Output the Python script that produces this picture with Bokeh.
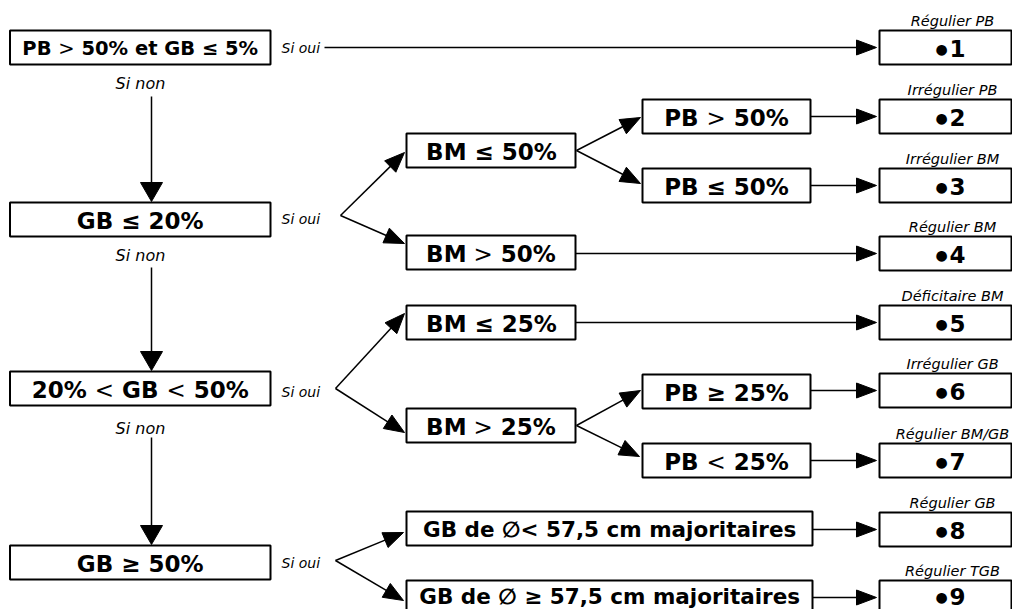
from bokeh.plotting import figure
from bokeh.models import Range1d, ColumnDataSource
from bokeh.core.properties import value
from bokeh.embed import file_html
from bokeh.resources import INLINE

# ---------------- data (texts of the decision key) ----------------
main_tests = ["PB > 50% et GB ≤ 5%", "GB ≤ 20%", "20% < GB < 50%", "GB ≥ 50%"]
yes_label = "Si oui"
no_label = "Si non"
bm_tests_low = ["BM ≤ 50%", "BM > 50%"]
pb_tests_low = ["PB > 50%", "PB ≤ 50%"]
bm_tests_mid = ["BM ≤ 25%", "BM > 25%"]
pb_tests_mid = ["PB ≥ 25%", "PB < 25%"]
gb_tests_high = ["GB de ∅< 57,5 cm majoritaires", "GB de ∅ ≥ 57,5 cm majoritaires"]
outcome_ids = ["1", "2", "3", "4", "5", "6", "7", "8", "9"]
outcome_names = ["Régulier PB", "Irrégulier PB", "Irrégulier BM", "Régulier BM",
                 "Déficitaire BM", "Irrégulier GB", "Régulier BM/GB", "Régulier GB",
                 "Régulier TGB"]
bullet = "●"

# ---------------- layout (pixel coordinates) ----------------
FONT = "DejaVu Sans"
BOX_H = 34
MAIN_SIZE = 23
col1 = dict(left=9.5, right=270, tops=[30, 202, 371, 545])
no_y = [83, 255, 428]
col1_yes_y = [47, 218, 391, 562]
right_col = dict(left=879, right=1011, tops=[30, 99, 168, 236, 305, 373, 443, 512, 580])
mid_boxes = [  # (text, left, right, top, font size)
    (bm_tests_low[0], 406, 575, 133, MAIN_SIZE),
    (bm_tests_low[1], 406, 575, 235, MAIN_SIZE),
    (pb_tests_low[0], 642, 810, 99, MAIN_SIZE),
    (pb_tests_low[1], 642, 810, 168, MAIN_SIZE),
    (bm_tests_mid[0], 406, 575, 305, MAIN_SIZE),
    (bm_tests_mid[1], 406, 575, 408, MAIN_SIZE),
    (pb_tests_mid[0], 642, 810, 374, MAIN_SIZE),
    (pb_tests_mid[1], 642, 810, 443, MAIN_SIZE),
    (gb_tests_high[0], 406, 812, 511, 21.5),
    (gb_tests_high[1], 406, 812, 580, 21.5),
]

BOLD_W = {' ': .348, '%': 1.002, ',': .380, '<': .838, '>': .838, '≤': .838, '≥': .838,
          '∅': .838, 'B': .762, 'G': .821, 'M': .953, 'P': .733, 'T': .682, 'a': .675,
          'c': .593, 'd': .716, 'e': .678, 'i': .343, 'j': .343, 'm': 1.042, 'o': .687,
          'r': .493, 's': .595, 't': .478, '/': .365}
for _d in "0123456789":
    BOLD_W[_d] = .696
REG_W = {'<': .838, '>': .838}


def runs_for(text):
    """split a criterion into bold runs and regular-weight comparison signs"""
    out = []
    cur = []
    for tok in text.split(" "):
        if tok in ("<", ">"):
            if cur:
                out.append((" ".join(cur), "bold"))
                cur = []
            out.append((tok, "normal"))
        else:
            cur.append(tok)
    if cur:
        out.append((" ".join(cur), "bold"))
    return out


def width(s, style, size):
    tab = BOLD_W if style == "bold" else REG_W
    return sum(tab.get(ch, BOLD_W.get(ch, .7)) for ch in s) * size


bold_src = dict(x=[], y=[], text=[], size=[])
norm_src = dict(x=[], y=[], text=[], size=[])


def place_text(text, cx, cy, size):
    runs = runs_for(text)
    sp = BOLD_W[' '] * size
    total = sum(width(r, st, size) for r, st in runs) + sp * (len(runs) - 1)
    x = cx - total / 2
    for r, st in runs:
        d = bold_src if st == "bold" else norm_src
        d["x"].append(x)
        d["y"].append(cy)
        d["text"].append(r)
        d["size"].append(f"{size}px")
        x += width(r, st, size) + sp


p = figure(width=1012, height=609, x_range=Range1d(0, 1012), y_range=Range1d(609, 0),
           output_backend="svg", toolbar_location=None, x_axis_location=None,
           y_axis_location=None, min_border=0, outline_line_color=None)
p.grid.visible = False
p.background_fill_color = "white"
p.border_fill_color = "white"

# ---------------- arrows ----------------
seg_xs, seg_ys, tri_xs, tri_ys = [], [], [], []


def arrow(x0, y0, x1, y1, L=20, W=7.5):
    dx, dy = x1 - x0, y1 - y0
    n = (dx * dx + dy * dy) ** 0.5
    ux, uy = dx / n, dy / n
    bx, by = x1 - ux * L, y1 - uy * L
    px, py = -uy, ux
    seg_xs.append([x0, bx + ux * 2])
    seg_ys.append([y0, by + uy * 2])
    tri_xs.append([x1, bx + px * W, bx - px * W])
    tri_ys.append([y1, by + py * W, by - py * W])


TIP_X = 876
# first test, direct yes
arrow(324, col1_yes_y[0], TIP_X, col1_yes_y[0])
# vertical "Si non" arrows
for y0, top in zip([96, 267, 437], col1["tops"][1:]):
    arrow(151, y0, 151, top - 1, L=19, W=11)
# forks
arrow(340, 215, 404, 152, W=8)
arrow(340, 215, 404, 243, W=8)
arrow(576, 150, 640, 117, W=8)
arrow(576, 150, 640, 183, W=8)
arrow(335, 388, 404, 313, W=8)
arrow(335, 388, 404, 432, W=8)
arrow(576, 425, 640, 390, W=8)
arrow(576, 425, 639, 456, W=8)
arrow(335, 560, 403, 532, W=8)
arrow(335, 560, 403, 600, W=8)
# to outcomes
for box, k in [(mid_boxes[2], 1), (mid_boxes[3], 2), (mid_boxes[1], 3),
               (mid_boxes[4], 4), (mid_boxes[6], 5), (mid_boxes[7], 6),
               (mid_boxes[8], 7), (mid_boxes[9], 8)]:
    r = box[2]
    yc = right_col["tops"][k] + BOX_H / 2
    arrow(r, yc, TIP_X, yc)

p.multi_line(seg_xs, seg_ys, line_color="black", line_width=1.5)
p.patches(tri_xs, tri_ys, fill_color="black", line_color="black", line_width=1)

# ---------------- boxes ----------------
bl, br, bt, bb = [], [], [], []
for t in col1["tops"]:
    bl.append(col1["left"]); br.append(col1["right"]); bt.append(t); bb.append(t + BOX_H)
for t in right_col["tops"]:
    bl.append(right_col["left"]); br.append(right_col["right"]); bt.append(t); bb.append(t + BOX_H)
for _, l, r, t, _s in mid_boxes:
    bl.append(l); br.append(r); bt.append(t); bb.append(t + BOX_H)
p.quad(left=bl, right=br, top=bt, bottom=bb, fill_color="white", line_color="black",
       line_width=2)

# ---------------- texts ----------------
cx1 = (col1["left"] + col1["right"]) / 2
for i, (txt, t) in enumerate(zip(main_tests, col1["tops"])):
    place_text(txt, cx1, t + BOX_H / 2 + 1, 19.5 if i == 0 else MAIN_SIZE)
for txt, l, r, t, s in mid_boxes:
    cy = t + BOX_H / 2 + 1
    if t + BOX_H > 609:
        cy -= 2
    place_text(txt, (l + r) / 2, cy, s)

bs = ColumnDataSource(bold_src)
ns = ColumnDataSource(norm_src)
p.text(x="x", y="y", text="text", source=bs, text_font=value(FONT), text_font_style="bold",
       text_font_size="size", text_align="left", text_baseline="middle", text_color="black")
p.text(x="x", y="y", text="text", source=ns, text_font=value(FONT), text_font_style="normal",
       text_font_size="size", text_align="left", text_baseline="middle", text_color="black")

# outcome boxes: bullet + number, name above
oy = [t + BOX_H / 2 + 1 for t in right_col["tops"]]
oy[-1] -= 2
p.text(x=[941] * 9, y=oy, text=[bullet] * 9, text_font=value(FONT),
       text_font_size="14px", text_align="center", text_baseline="middle", text_color="black")
p.text(x=[949] * 9, y=oy, text=outcome_ids, text_font=value(FONT),
       text_font_style="bold", text_font_size="23px", text_align="left",
       text_baseline="middle", text_color="black")
p.text(x=[952] * 9, y=[t - 10 for t in right_col["tops"]], text=outcome_names,
       text_font=value(FONT), text_font_style="italic", text_font_size="14.5px",
       text_align="center", text_baseline="middle", text_color="black")

# Si oui / Si non
p.text(x=[281] * 4, y=col1_yes_y, text=[yes_label] * 4, text_font=value(FONT),
       text_font_style="italic", text_font_size="14px", text_align="left",
       text_baseline="middle", text_color="black")
p.text(x=[140] * 3, y=no_y, text=[no_label] * 3, text_font=value(FONT),
       text_font_style="italic", text_font_size="16px", text_align="center",
       text_baseline="middle", text_color="black")

open("out.html", "w").write(file_html(p, INLINE))
